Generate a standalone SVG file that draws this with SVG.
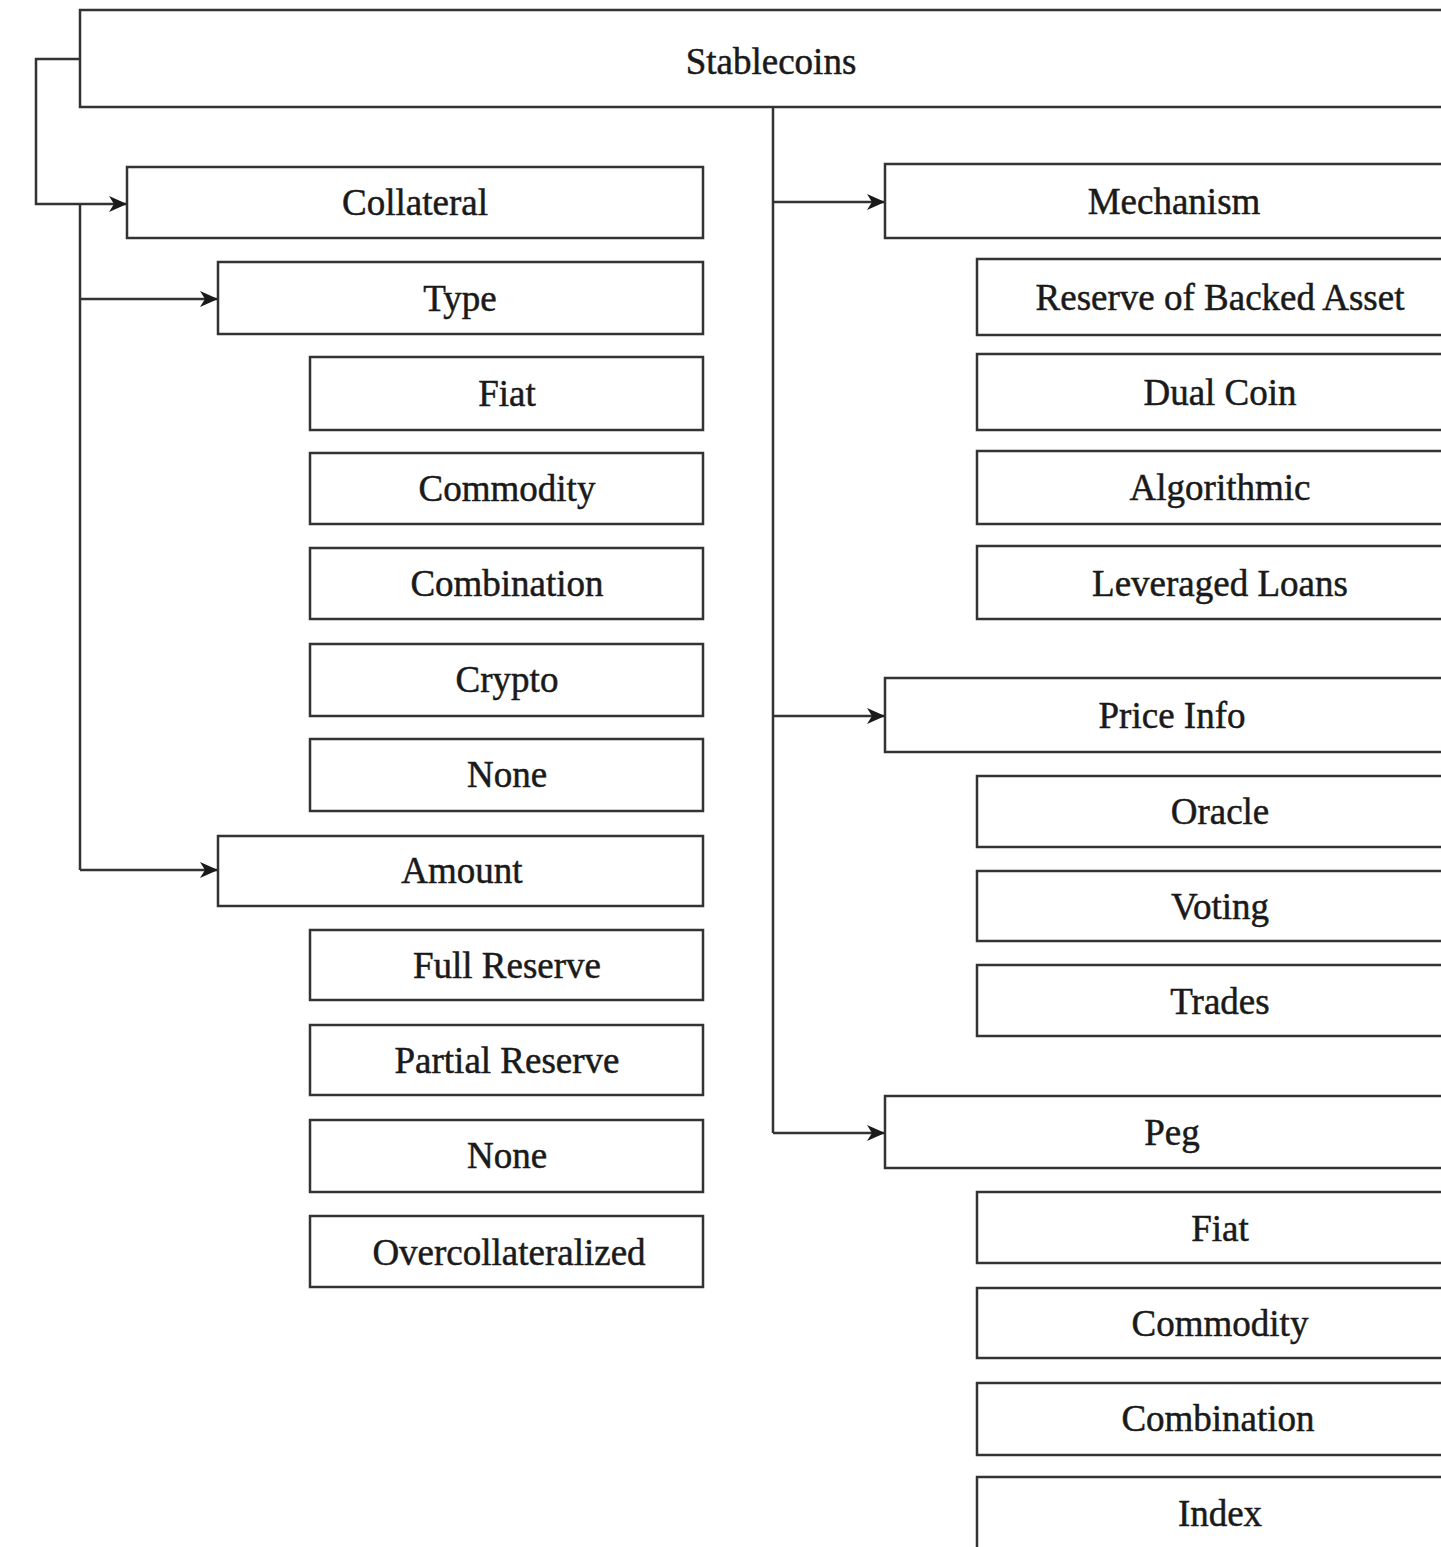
<svg xmlns="http://www.w3.org/2000/svg" width="1441" height="1547" viewBox="0 0 1441 1547">
<style>
.box{fill:#fff;stroke:#333;stroke-width:2.5}
.lbl{font-family:"Liberation Serif","Times New Roman",serif;font-size:37px;fill:#1a1a1a;stroke:#1a1a1a;stroke-width:0.5;text-anchor:middle}
.con{fill:none;stroke:#333;stroke-width:2.5}
</style>
<defs>
<marker id="arr" markerWidth="18" markerHeight="16" refX="17" refY="8" orient="auto" markerUnits="userSpaceOnUse">
<path d="M0,0 L18,8 L0,16 L5,8 z" fill="#1a1a1a"/>
</marker>
</defs>
<rect width="1441" height="1547" fill="#fff"/>
<g id="connectors">
<path class="con" d="M80,59 H36 V204 H126" marker-end="url(#arr)"/>
<path class="con" d="M80,204 V870"/>
<path class="con" d="M80,299 H217" marker-end="url(#arr)"/>
<path class="con" d="M80,870 H217" marker-end="url(#arr)"/>
<path class="con" d="M773,107 V1133"/>
<path class="con" d="M773,202 H884" marker-end="url(#arr)"/>
<path class="con" d="M773,716 H884" marker-end="url(#arr)"/>
<path class="con" d="M773,1133 H884" marker-end="url(#arr)"/>
</g>
<g id="n-stablecoins"><rect class="box" x="80" y="10" width="1400" height="97"/><text class="lbl" x="771" y="74">Stablecoins</text></g>
<g id="n-collateral"><rect class="box" x="127" y="167" width="576" height="71"/><text class="lbl" x="415" y="215">Collateral</text></g>
<g id="n-type"><rect class="box" x="218" y="262" width="485" height="72"/><text class="lbl" x="460" y="311">Type</text></g>
<g id="n-fiat1"><rect class="box" x="310" y="357" width="393" height="73"/><text class="lbl" x="507" y="406">Fiat</text></g>
<g id="n-commodity1"><rect class="box" x="310" y="453" width="393" height="71"/><text class="lbl" x="507" y="501">Commodity</text></g>
<g id="n-combination1"><rect class="box" x="310" y="548" width="393" height="71"/><text class="lbl" x="507" y="596">Combination</text></g>
<g id="n-crypto"><rect class="box" x="310" y="644" width="393" height="72"/><text class="lbl" x="507" y="692">Crypto</text></g>
<g id="n-none1"><rect class="box" x="310" y="739" width="393" height="72"/><text class="lbl" x="507" y="787">None</text></g>
<g id="n-amount"><rect class="box" x="218" y="836" width="485" height="70"/><text class="lbl" x="462" y="883">Amount</text></g>
<g id="n-fullreserve"><rect class="box" x="310" y="930" width="393" height="70"/><text class="lbl" x="507" y="978">Full Reserve</text></g>
<g id="n-partialreserve"><rect class="box" x="310" y="1025" width="393" height="70"/><text class="lbl" x="507" y="1073">Partial Reserve</text></g>
<g id="n-none2"><rect class="box" x="310" y="1120" width="393" height="72"/><text class="lbl" x="507" y="1168">None</text></g>
<g id="n-overcollateralized"><rect class="box" x="310" y="1216" width="393" height="71"/><text class="lbl" x="509" y="1265">Overcollateralized</text></g>
<g id="n-mechanism"><rect class="box" x="885" y="164" width="600" height="74"/><text class="lbl" x="1174" y="214">Mechanism</text></g>
<g id="n-reserve"><rect class="box" x="977" y="259" width="500" height="76"/><text class="lbl" x="1220" y="310">Reserve of Backed Asset</text></g>
<g id="n-dualcoin"><rect class="box" x="977" y="354" width="500" height="76"/><text class="lbl" x="1220" y="405">Dual Coin</text></g>
<g id="n-algorithmic"><rect class="box" x="977" y="451" width="500" height="73"/><text class="lbl" x="1220" y="500">Algorithmic</text></g>
<g id="n-leveraged"><rect class="box" x="977" y="546" width="500" height="73"/><text class="lbl" x="1220" y="596">Leveraged Loans</text></g>
<g id="n-priceinfo"><rect class="box" x="885" y="678" width="600" height="74"/><text class="lbl" x="1172" y="728">Price Info</text></g>
<g id="n-oracle"><rect class="box" x="977" y="776" width="500" height="71"/><text class="lbl" x="1220" y="824">Oracle</text></g>
<g id="n-voting"><rect class="box" x="977" y="871" width="500" height="70"/><text class="lbl" x="1220" y="919">Voting</text></g>
<g id="n-trades"><rect class="box" x="977" y="965" width="500" height="71"/><text class="lbl" x="1220" y="1014">Trades</text></g>
<g id="n-peg"><rect class="box" x="885" y="1096" width="600" height="72"/><text class="lbl" x="1172" y="1145">Peg</text></g>
<g id="n-fiat2"><rect class="box" x="977" y="1192" width="500" height="71"/><text class="lbl" x="1220" y="1241">Fiat</text></g>
<g id="n-commodity2"><rect class="box" x="977" y="1288" width="500" height="70"/><text class="lbl" x="1220" y="1336">Commodity</text></g>
<g id="n-combination2"><rect class="box" x="977" y="1383" width="500" height="72"/><text class="lbl" x="1218" y="1431">Combination</text></g>
<g id="n-index"><rect class="box" x="977" y="1477" width="500" height="100"/><text class="lbl" x="1220" y="1526">Index</text></g>
</svg>
